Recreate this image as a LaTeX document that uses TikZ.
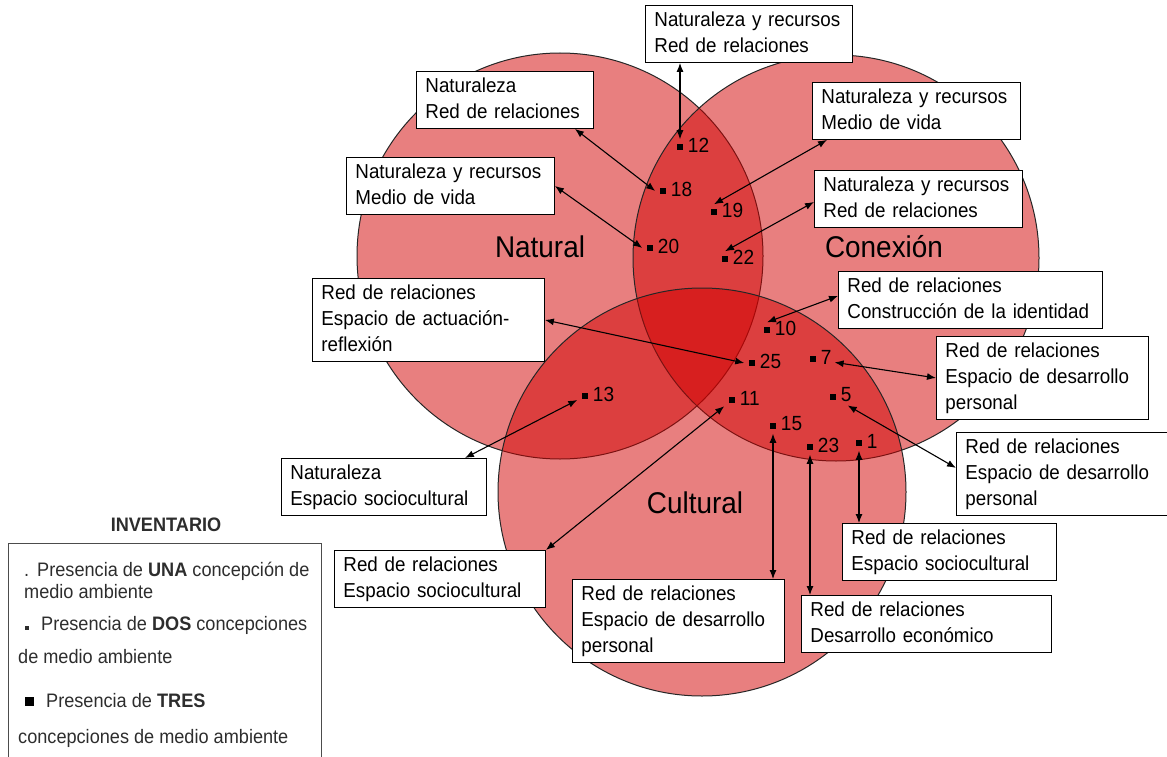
\documentclass[tikz,border=0pt]{standalone}
\usepackage{fontspec}
\setmainfont{Liberation Sans}[FakeStretch=0.93]
\usetikzlibrary{arrows.meta}
\definecolor{vennred}{RGB}{209,0,0}
\definecolor{legtext}{RGB}{45,45,45}

\begin{document}
\begin{tikzpicture}[x=1pt, y=-1pt,
  circle set/.style={draw=black!85, line width=1pt, fill=vennred, fill opacity=0.5},
  set name/.style={font=\fontsize{30}{30}\selectfont},
  text box/.style={draw, fill=white, line width=0.9pt, anchor=north west, align=left,
    inner xsep=9pt, inner ysep=5.5pt, text height=16pt, text depth=30pt,
    execute at begin node={\hyphenpenalty=10000},
    font=\fontsize{20.2}{26}\selectfont},
  three lines/.style={text depth=56pt},
  point node/.style={fill=black, minimum size=5.5pt, inner sep=0pt, outer sep=5pt, label distance=2pt},
  num/.style={inner sep=0pt, yshift=2pt, font=\fontsize{20.5}{24}\selectfont},
  legend/.style={anchor=west, inner sep=0pt, text=legtext, font=\fontsize{19.5}{22}\selectfont},
  link/.style={{Latex[length=9pt,width=7pt]}-{Latex[length=9pt,width=7pt]}, line width=1.1pt}]

\useasboundingbox (0,0) rectangle (1167,757);

% the three sets
\draw[circle set] (560,256) circle (203pt);
\draw[circle set] (836,258) circle (203pt);
\draw[circle set] (702,492) circle (204pt);

\node[set name] (nat) at (540,247) {Natural};
\node[set name] (con) at (884,247) {Conexión};
\node[set name] (cul) at (695,503) {Cultural};

% points of the inventory
\node[point node, label={[num]0:12}] (p12) at (680,147) {};
\node[point node, label={[num]0:18}] (p18) at (663,191) {};
\node[point node, label={[num]0:19}] (p19) at (714,212) {};
\node[point node, label={[num]0:20}] (p20) at (650,248) {};
\node[point node, label={[num]0:22}] (p22) at (725,259) {};
\node[point node, label={[num]0:10}] (p10) at (767,330) {};
\node[point node, label={[num]0:25}] (p25) at (752,363) {};
\node[point node, label={[num]0:7}] (p7) at (813,359) {};
\node[point node, label={[num]0:13}] (p13) at (585,396) {};
\node[point node, label={[num]0:11}] (p11) at (732,400) {};
\node[point node, label={[num]0:5}] (p5) at (833,397) {};
\node[point node, label={[num]0:15}] (p15) at (773,426) {};
\node[point node, label={[num]0:23}] (p23) at (810,447) {};
\node[point node, label={[num]0:1}] (p1) at (859,443) {};

% boxes
\node[text box, text width=189pt] (bA) at (645,5) {Naturaleza y recursos\\Red de relaciones};
\node[text box, text width=159pt] (bB) at (416,71) {Naturaleza\\Red de relaciones};
\node[text box, text width=190pt] (bC) at (346,157) {Naturaleza y recursos\\Medio de vida};
\node[text box, text width=190pt] (bD) at (812,82) {Naturaleza y recursos\\Medio de vida};
\node[text box, text width=190pt] (bE) at (814,170) {Naturaleza y recursos\\Red de relaciones};
\node[text box, text width=246pt] (bF) at (838,271) {Red de relaciones\\Construcción de la identidad};
\node[text box, three lines, text width=214pt] (bG) at (312,278) {Red de relaciones\\Espacio de actuación-\\reflexión};
\node[text box, three lines, text width=194pt] (bH) at (936,336) {Red de relaciones\\Espacio de desarrollo\\personal};
\node[text box, three lines, text width=197pt] (bI) at (956,432) {Red de relaciones\\Espacio de desarrollo\\personal};
\node[text box, text width=187pt] (bJ) at (281,458) {Naturaleza\\Espacio sociocultural};
\node[text box, text width=193pt] (bK) at (334,550) {Red de relaciones\\Espacio sociocultural};
\node[text box, three lines, text width=194pt] (bL) at (572,579) {Red de relaciones\\Espacio de desarrollo\\personal};
\node[text box, text width=232pt] (bM) at (801,595) {Red de relaciones\\Desarrollo económico};
\node[text box, text width=196pt] (bN) at (842,523) {Red de relaciones\\Espacio sociocultural};

\path[link]
(p12 |- bA.south) edge (p12.north)
([xshift=-19pt]bB.south east) edge (p18.west)
(bC.east) edge (p20.west)
([xshift=15pt]bD.south west) edge (p19.north)
([yshift=-3pt]bE.west) edge (p22.north)
([yshift=4pt]bF.west) edge (p10.north)
(bG.east) edge (p25.west)
(bH.west) edge[shorten >=14pt] (p7)
([yshift=6pt]bI.west) edge[shorten >=8pt] (p5)
([xshift=-22pt]bJ.north east) edge (p13)
(bK.north east) edge (p11)
(p15 |- bL.north) edge (p15)
(p23 |- bM.north) edge (p23)
(p1 |- bN.north) edge (p1)
;

% inventory legend
\node[font=\bfseries\fontsize{19.5}{22}\selectfont, text=legtext] (inv) at (166,525) {INVENTARIO};
\draw[black!70, line width=1pt] (8,760) -- (8,543) -- (321,543) -- (321,760);
\node[legend] (leg1) at (24,571) {.\hspace{8pt}Presencia de \textbf{UNA} concepción de};
\node[legend] (leg2) at (24,592) {medio ambiente};
\node[fill=legtext, minimum size=4pt, inner sep=0pt] (sq2) at (27,628) {};
\node[legend] (leg3) at (41,625) {Presencia de \textbf{DOS} concepciones};
\node[legend] (leg4) at (18,657) {de medio ambiente};
\node[fill=black, minimum size=9pt, inner sep=0pt] (sq3) at (29,701) {};
\node[legend] (leg5) at (46,701) {Presencia de \textbf{TRES}};
\node[legend] (leg6) at (18,738) {concepciones de medio ambiente};
\end{tikzpicture}
\end{document}
